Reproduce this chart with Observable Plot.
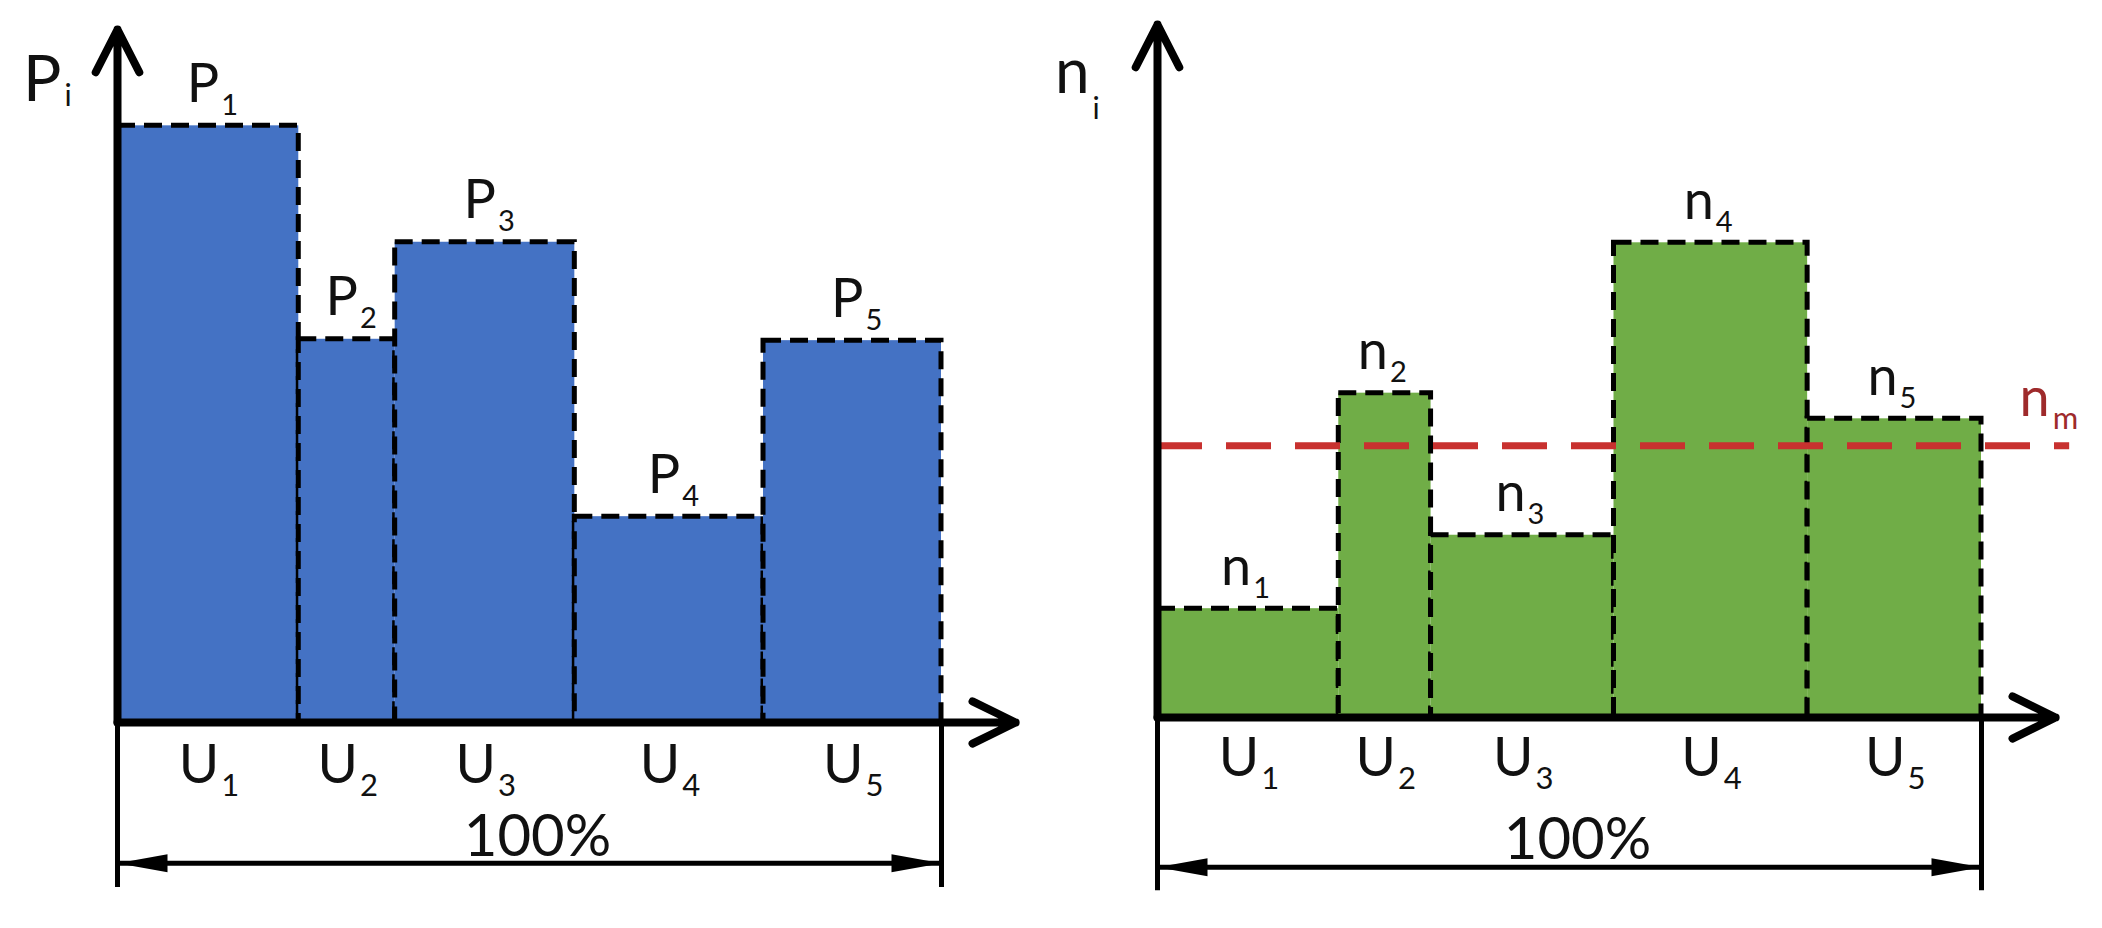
<!DOCTYPE html>
<html>
<head>
<meta charset="utf-8">
<script src="https://cdn.jsdelivr.net/npm/d3@7"></script>
<script src="https://cdn.jsdelivr.net/npm/@observablehq/plot@0.6"></script>
<style>
  html, body { margin: 0; padding: 0; background: #fff; }
  #wrap { position: relative; width: 2102px; height: 928px; overflow: hidden; background: #fff; }
  #wrap > svg, #wrap > figure { position: absolute; top: 0; margin: 0; }
</style>
</head>
<body>
<div id="wrap"></div>
<script>
// ---------- data ----------
const segments = ["1", "2", "3", "4", "5"];          // subscripts of U, P, n
const uShareP = [22.0, 11.7, 21.8, 22.9, 21.6];      // width share of each U (left chart, %)
const uShareN = [22.0, 11.2, 22.2, 23.5, 21.1];      // width share of each U (right chart, %)
const pValues = [86.1, 55.3, 69.3, 29.7, 55.1];      // P_i heights
const nValues = [15.7, 46.8, 26.3, 68.5, 43.1];      // n_i heights
const nMean = [39.2];                                // n_m level
const totalLabel = ["100%"];
const xLetter = "U";

// ---------- layout ----------
const W = 1051, H = 928;
const AXIS_TOP = 100;     // y-axis arrow tip (data units)
const AXIS_RIGHT = 109;   // x-axis arrow tip (data units)

// elongated filled triangle: tip at origin, pointing left
const headSymbol = {
  draw(ctx) { ctx.moveTo(0, 0); ctx.lineTo(50, -9); ctx.lineTo(50, 9); ctx.closePath(); }
};

function chart(o) {
  const ends = d3.cumsum(o.shares);
  const rows = segments.map((s, i) => ({
    sub: s, x1: ends[i] - o.shares[i], x2: ends[i], xc: ends[i] - o.shares[i] / 2, v: o.values[i]
  }));
  const total = ends[ends.length - 1];
  const dashed = {stroke: "#000", strokeWidth: 5, strokeDasharray: "18,9"};
  const marks = [
    // bars
    Plot.rect(rows, {x1: "x1", x2: "x2", y1: () => 0, y2: "v", fill: o.fill, ...dashed}),
    // bar labels
    Plot.text(rows, {x: "xc", y: "v", text: () => o.letter, textAnchor: "end", lineAnchor: "bottom",
      dx: 5 + o.lblShift, dy: -24, fontSize: 54, fill: "#111"}),
    Plot.text(rows, {x: "xc", y: "v", text: "sub", textAnchor: "start", lineAnchor: "bottom",
      dx: 7 + o.lblShift, dy: -11, fontSize: 29, fill: "#111"}),
    // x category labels
    Plot.text(rows, {x: "xc", y: () => 0, text: () => xLetter, textAnchor: "end", lineAnchor: "bottom",
      dx: 11, dy: o.uDy, fontSize: 55, fill: "#111"}),
    Plot.text(rows, {x: "xc", y: () => 0, text: "sub", textAnchor: "start", lineAnchor: "bottom",
      dx: 13, dy: o.uDy + 13, fontSize: 31, fill: "#111"}),
    // dimension line (100%)
    Plot.ruleX([0, total], {y1: () => 0, y2: () => o.extLevel, stroke: "#000", strokeWidth: 5}),
    Plot.ruleY([o.dimLevel], {x1: () => 0, x2: () => total, stroke: "#000", strokeWidth: 5}),
    Plot.dot([0], {x: () => 0, y: () => o.dimLevel, symbol: headSymbol, fill: "#000", stroke: "none"}),
    Plot.dot([0], {x: () => total, y: () => o.dimLevel, symbol: headSymbol, rotate: 180, fill: "#000", stroke: "none"}),
    Plot.text(totalLabel, {x: () => total / 2, y: () => 0, text: d => d, lineAnchor: "bottom",
      dx: 8, dy: o.totalDy, fontSize: 58, fill: "#111"}),
  ];
  if (o.mean) {
    marks.push(
      Plot.ruleY(o.mean, {x1: () => 0, x2: () => o.meanEnd, stroke: "#c8312f", strokeWidth: 7, strokeDasharray: "45,24"}),
      Plot.text(o.mean, {x: () => o.meanEnd, y: d => d, text: () => "n", textAnchor: "end", lineAnchor: "bottom",
        dx: -20, dy: -30, fontSize: 54, fill: "#9e2a2b"}),
      Plot.text(o.mean, {x: () => o.meanEnd, y: d => d, text: () => "m", textAnchor: "start", lineAnchor: "bottom",
        dx: -17, dy: -17, fontSize: 31, fill: "#9e2a2b"})
    );
  }
  marks.push(
    // axes with arrowheads
    Plot.arrow([{a: 0}], {x1: () => 0, y1: () => 0, x2: () => 0, y2: () => AXIS_TOP,
      stroke: "#000", strokeWidth: 8, headLength: 9, headAngle: 54}),
    Plot.arrow([{a: 0}], {x1: () => 0, y1: () => 0, x2: () => AXIS_RIGHT, y2: () => 0,
      stroke: "#000", strokeWidth: 8, headLength: 9, headAngle: 52}),
    // axis title
    Plot.text([o.axisLetter[0]], {x: () => 0, y: () => AXIS_TOP, text: d => d, textAnchor: "end", lineAnchor: "bottom",
      dx: o.axDx, dy: o.axDy, fontSize: o.axSize, fill: "#111"}),
    Plot.text([o.axisLetter[1]], {x: () => 0, y: () => AXIS_TOP, text: d => d, textAnchor: "start", lineAnchor: "bottom",
      dx: o.axDx + 3, dy: o.axDy + o.axSubDy, fontSize: 30, fill: "#111"})
  );
  return Plot.plot({
    width: W, height: H,
    marginLeft: 117, marginRight: W - 941, marginTop: o.top, marginBottom: H - o.base,
    x: {domain: [0, 100], axis: null},
    y: {domain: [0, 100], axis: null},
    style: {fontFamily: "Lato, 'Open Sans', sans-serif", background: "transparent", overflow: "visible"},
    marks
  });
}

const wrap = document.getElementById("wrap");

const left = chart({
  letter: "P", shares: uShareP, values: pValues, fill: "#4472c4", lblShift: 6,
  top: 29, base: 722, uDy: 60, totalDy: 133, dimLevel: -20.3, extLevel: -23.8,
  axisLetter: ["P", "i"], axDx: -56, axDy: 71, axSize: 64, axSubDy: 5
});
left.style.left = "0px";
wrap.appendChild(left);

const right = chart({
  letter: "n", shares: uShareN, values: nValues, fill: "#70ad47", lblShift: -2,
  top: 24, base: 717, uDy: 58, totalDy: 141, dimLevel: -21.6, extLevel: -25.0,
  mean: nMean, meanEnd: 110.7,
  axisLetter: ["n", "i"], axDx: -68, axDy: 68, axSize: 62, axSubDy: 26
});
right.style.left = "1040px";
wrap.appendChild(right);
</script>
</body>
</html>
